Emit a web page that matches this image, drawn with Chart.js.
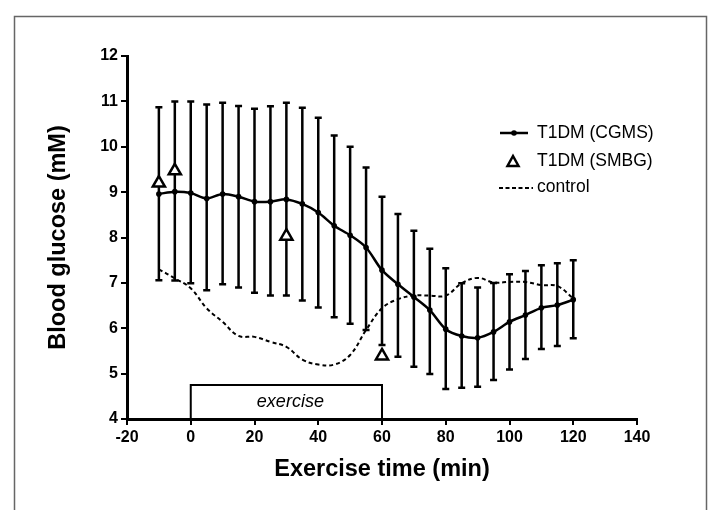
<!DOCTYPE html>
<html><head><meta charset="utf-8">
<script src="https://cdn.jsdelivr.net/npm/chart.js@4.4.1/dist/chart.umd.min.js"></script>
<style>html,body{margin:0;padding:0;background:#fff}</style>
</head><body>
<canvas id="c" width="710" height="510"></canvas>
<script>
// ---- data ----
const times = [-10,-5,0,5,10,15,20,25,30,35,40,45,50,55,60,65,70,75,80,85,90,95,100,105,110,115,120];
const cgmsMean = [8.96,9.01,8.98,8.86,8.96,8.90,8.79,8.79,8.84,8.74,8.55,8.26,8.05,7.78,7.28,6.97,6.69,6.40,5.98,5.83,5.79,5.92,6.14,6.29,6.45,6.51,6.63];
const cgmsUpper = [10.87,11.0,11.0,10.93,10.97,10.9,10.84,10.89,10.97,10.86,10.64,10.25,10.0,9.54,8.9,8.52,8.15,7.75,7.32,6.99,6.9,7.0,7.19,7.26,7.39,7.43,7.5];
const cgmsLower = [7.06,7.05,6.99,6.84,6.97,6.9,6.78,6.72,6.72,6.61,6.46,6.24,6.1,5.96,5.63,5.37,5.15,4.99,4.66,4.69,4.71,4.86,5.09,5.32,5.54,5.61,5.78];
const controlMean = [7.3,7.1,6.88,6.44,6.14,5.83,5.81,5.7,5.59,5.31,5.2,5.2,5.41,5.96,6.44,6.64,6.72,6.72,6.72,6.99,7.11,7.01,7.02,7.02,6.95,6.93,6.66];
const smbgTimes = [-10,-5,30,60];
const smbgValues = [9.2,9.47,8.03,5.39];
const seriesLabels = ['T1DM (CGMS)','T1DM (SMBG)','control'];
const xAxisTitle = 'Exercise time (min)';
const yAxisTitle = 'Blood glucose (mM)';
const exerciseStart = 0, exerciseEnd = 60, exerciseTop = 4.75, exerciseLabel = 'exercise';

const FONT = "'Liberation Sans', Arial, Helvetica, sans-serif";
const pts = (xs, ys) => xs.map((x, i) => ({x, y: ys[i]}));

const framePlugin = {
  id: 'frame',
  beforeDraw(chart) {
    const ctx = chart.ctx;
    ctx.save();
    ctx.fillStyle = '#fff';
    ctx.fillRect(0, 0, chart.width, chart.height);
    ctx.strokeStyle = '#666';
    ctx.lineWidth = 1.5;
    ctx.strokeRect(14.5, 16.5, 692, 520);
    ctx.restore();
  }
};

const errorBarPlugin = {
  id: 'errbars',
  beforeDatasetsDraw(chart) {
    const ctx = chart.ctx, xs = chart.scales.x, ys = chart.scales.y;
    ctx.save();
    // exercise box
    const bx0 = xs.getPixelForValue(exerciseStart), bx1 = xs.getPixelForValue(exerciseEnd);
    const by0 = ys.getPixelForValue(exerciseTop), by1 = ys.getPixelForValue(4);
    ctx.strokeStyle = '#000';
    ctx.lineWidth = 2;
    ctx.beginPath();
    ctx.moveTo(bx0, by1); ctx.lineTo(bx0, by0); ctx.lineTo(bx1, by0); ctx.lineTo(bx1, by1);
    ctx.stroke();
    ctx.fillStyle = '#000';
    ctx.font = 'italic 18px ' + FONT;
    ctx.textAlign = 'center';
    ctx.textBaseline = 'middle';
    ctx.fillText(exerciseLabel, (bx0 + bx1) / 2 + 4, (by0 + by1) / 2);
    // error bars
    ctx.lineWidth = 2.5;
    times.forEach((t, i) => {
      const px = xs.getPixelForValue(t);
      const pu = ys.getPixelForValue(cgmsUpper[i]);
      const pl = ys.getPixelForValue(cgmsLower[i]);
      ctx.beginPath();
      ctx.moveTo(px, pu); ctx.lineTo(px, pl);
      ctx.moveTo(px - 3.5, pu); ctx.lineTo(px + 3.5, pu);
      ctx.moveTo(px - 3.5, pl); ctx.lineTo(px + 3.5, pl);
      ctx.stroke();
    });
    ctx.restore();
  }
};

const legendPlugin = {
  id: 'customLegend',
  afterDraw(chart) {
    const ctx = chart.ctx;
    ctx.save();
    ctx.strokeStyle = '#000';
    ctx.fillStyle = '#000';
    ctx.font = '17.5px ' + FONT;
    ctx.textAlign = 'left';
    ctx.textBaseline = 'middle';
    // CGMS
    ctx.lineWidth = 2.5;
    ctx.beginPath(); ctx.moveTo(500, 133); ctx.lineTo(528, 133); ctx.stroke();
    ctx.beginPath(); ctx.arc(514, 133, 2.8, 0, Math.PI * 2); ctx.fill();
    ctx.fillText(seriesLabels[0], 537, 133);
    // SMBG triangle
    ctx.lineWidth = 2.5;
    ctx.beginPath();
    ctx.moveTo(513, 156); ctx.lineTo(518.5, 166); ctx.lineTo(507.5, 166); ctx.closePath();
    ctx.stroke();
    ctx.fillText(seriesLabels[1], 537, 161);
    // control dashed
    ctx.lineWidth = 2;
    ctx.setLineDash([4, 2.5]);
    ctx.beginPath(); ctx.moveTo(499, 188); ctx.lineTo(533, 188); ctx.stroke();
    ctx.setLineDash([]);
    ctx.fillText(seriesLabels[2], 537, 187);
    ctx.restore();
  }
};

const tickFont = {family: FONT, size: 16, weight: 'bold'};
const titleFont = {family: FONT, size: 23.5, weight: 'bold'};

new Chart(document.getElementById('c'), {
  type: 'line',
  data: {
    datasets: [
      {
        label: seriesLabels[0],
        data: pts(times, cgmsMean),
        borderColor: '#000', backgroundColor: '#000',
        borderWidth: 2.5, tension: 0.3,
        pointRadius: 2.8, pointBackgroundColor: '#000', pointBorderWidth: 0,
        order: 2
      },
      {
        label: seriesLabels[1],
        data: pts(smbgTimes, smbgValues),
        showLine: false,
        pointStyle: 'triangle', pointRadius: 7,
        pointBorderColor: '#000', pointBackgroundColor: '#fff', pointBorderWidth: 2.5,
        order: 1
      },
      {
        label: seriesLabels[2],
        data: pts(times, controlMean),
        borderColor: '#000', borderWidth: 2,
        borderDash: [4, 3], tension: 0.4,
        pointRadius: 0,
        order: 3
      }
    ]
  },
  options: {
    responsive: false,
    animation: false,
    devicePixelRatio: 1,
    layout: {padding: {left: 38, right: 73, top: 56, bottom: 22}},
    plugins: {legend: {display: false}, tooltip: {enabled: false}},
    scales: {
      x: {
        type: 'linear', min: -20, max: 140,
        ticks: {stepSize: 20, font: tickFont, color: '#000', padding: 3, maxRotation: 0},
        grid: {drawOnChartArea: false, drawTicks: true, tickLength: 6, color: '#000', lineWidth: 2},
        border: {display: true, color: '#000', width: 3},
        title: {display: true, text: xAxisTitle, font: titleFont, color: '#000', padding: {top: 0, bottom: 4}},
        afterFit: s => { s.height = 69; }
      },
      y: {
        type: 'linear', min: 4, max: 12,
        ticks: {stepSize: 1, font: tickFont, color: '#000', padding: 3},
        grid: {drawOnChartArea: false, drawTicks: true, tickLength: 6, color: '#000', lineWidth: 2},
        border: {display: true, color: '#000', width: 3},
        title: {display: true, text: yAxisTitle, font: titleFont, color: '#000', padding: {top: 6, bottom: 0}},
        afterFit: s => { s.width = 89; }
      }
    }
  },
  plugins: [framePlugin, errorBarPlugin, legendPlugin]
});
</script>
</body></html>
